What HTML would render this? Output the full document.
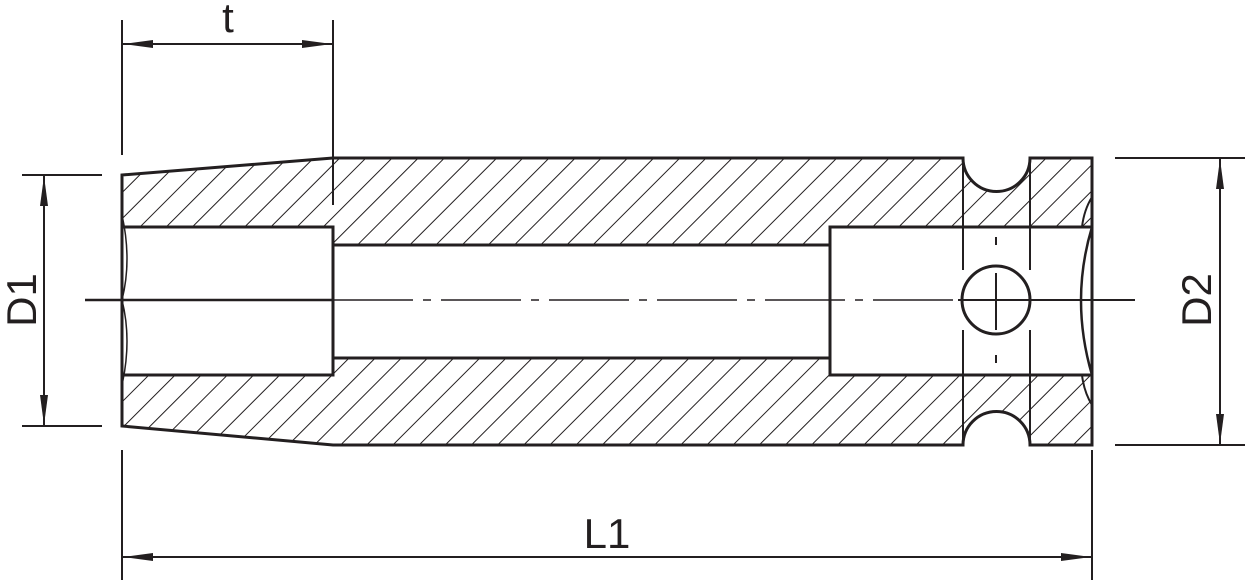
<!DOCTYPE html>
<html><head><meta charset="utf-8"><style>
html,body{margin:0;padding:0;background:#fff;}
svg{display:block;}
text{font-family:"Liberation Sans",Arial,sans-serif;fill:#231f20;}
</style></head><body>
<svg width="1250" height="585" viewBox="0 0 1250 585" xmlns="http://www.w3.org/2000/svg">
<defs>
<pattern id="h" patternUnits="userSpaceOnUse" width="18.5" height="18.5" patternTransform="rotate(45)">
<line x1="0" y1="0" x2="0" y2="18.5" stroke="#231f20" stroke-width="2"/>
</pattern>
<marker id="a" markerWidth="30" markerHeight="10" refX="30" refY="5" orient="auto" markerUnits="userSpaceOnUse">
<path d="M0,1 L30,5 L0,9 Z" fill="#231f20"/>
</marker>
</defs>
<g stroke="#231f20" fill="none">
<path d="M122,175 L333,158 L963,158 A33.5,33.5 0 0 0 1030,158 L1092,158 L1092,445 L1030,445 A33.5,33.5 0 0 0 963,445 L333,445 L122,426 Z" fill="url(#h)" stroke-width="3"/>
<path d="M122,227 L333,227 L333,245 L830,245 L830,227 L1092,227 L1092,375 L830,375 L830,358 L333,358 L333,375 L122,375 Z" fill="#fff" stroke-width="3"/>
<line x1="333" y1="227" x2="333" y2="375" stroke-width="3"/>
<line x1="830" y1="227" x2="830" y2="375" stroke-width="3"/>
<line x1="963" y1="158" x2="963" y2="445" stroke-width="2"/>
<line x1="1030" y1="158" x2="1030" y2="445" stroke-width="2"/>
<rect x="958" y="258" width="77" height="85" fill="#fff" stroke="none"/>
<line x1="963" y1="258" x2="963" y2="270" stroke-width="2"/>
<line x1="1030" y1="258" x2="1030" y2="270" stroke-width="2"/>
<line x1="963" y1="330" x2="963" y2="343" stroke-width="2"/>
<line x1="1030" y1="330" x2="1030" y2="343" stroke-width="2"/>
<circle cx="996" cy="300" r="34" stroke-width="3" fill="#fff"/>
<line x1="996" y1="273" x2="996" y2="330" stroke-width="2"/>
<line x1="996" y1="237" x2="996" y2="245" stroke-width="2"/>
<line x1="996" y1="355" x2="996" y2="363" stroke-width="2"/>
<path d="M1092,197 Q1084,210 1082,227" stroke-width="2"/>
<path d="M1092,227 Q1070,300 1092,375" stroke-width="2.5"/>
<path d="M1082,375 Q1084,392 1092,405" stroke-width="2"/>
<path d="M122,215 Q132,260 122,300 Q132,340 122,385" stroke-width="1.5"/>
<line x1="85" y1="300" x2="333" y2="300" stroke-width="2.5"/>
<line x1="333" y1="300" x2="958" y2="300" stroke-width="1.5" stroke-dasharray="80,10,8,10"/>
<line x1="958" y1="300" x2="1135" y2="300" stroke-width="2"/>
<line x1="122" y1="20" x2="122" y2="155" stroke-width="2"/>
<line x1="333" y1="20" x2="333" y2="205" stroke-width="2"/>
<line x1="228" y1="44" x2="123" y2="44" stroke-width="2" marker-end="url(#a)"/>
<line x1="228" y1="44" x2="332" y2="44" stroke-width="2" marker-end="url(#a)"/>
<line x1="22" y1="175" x2="102" y2="175" stroke-width="2"/>
<line x1="22" y1="426" x2="102" y2="426" stroke-width="2"/>
<line x1="44" y1="300" x2="44" y2="176" stroke-width="2" marker-end="url(#a)"/>
<line x1="44" y1="300" x2="44" y2="425" stroke-width="2" marker-end="url(#a)"/>
<line x1="1115" y1="158" x2="1245" y2="158" stroke-width="2"/>
<line x1="1115" y1="445" x2="1245" y2="445" stroke-width="2"/>
<line x1="1220" y1="300" x2="1220" y2="159" stroke-width="2" marker-end="url(#a)"/>
<line x1="1220" y1="300" x2="1220" y2="444" stroke-width="2" marker-end="url(#a)"/>
<line x1="122" y1="450" x2="122" y2="580" stroke-width="2"/>
<line x1="1092" y1="450" x2="1092" y2="580" stroke-width="2"/>
<line x1="607" y1="557" x2="123" y2="557" stroke-width="2" marker-end="url(#a)"/>
<line x1="607" y1="557" x2="1091" y2="557" stroke-width="2" marker-end="url(#a)"/>
</g>
<text x="228" y="32" font-size="42" text-anchor="middle">t</text>
<text x="607" y="548" font-size="42" text-anchor="middle">L1</text>
<text transform="translate(36,300) rotate(-90)" font-size="42" text-anchor="middle">D1</text>
<text transform="translate(1211,300) rotate(-90)" font-size="42" text-anchor="middle">D2</text>
</svg>
</body></html>
